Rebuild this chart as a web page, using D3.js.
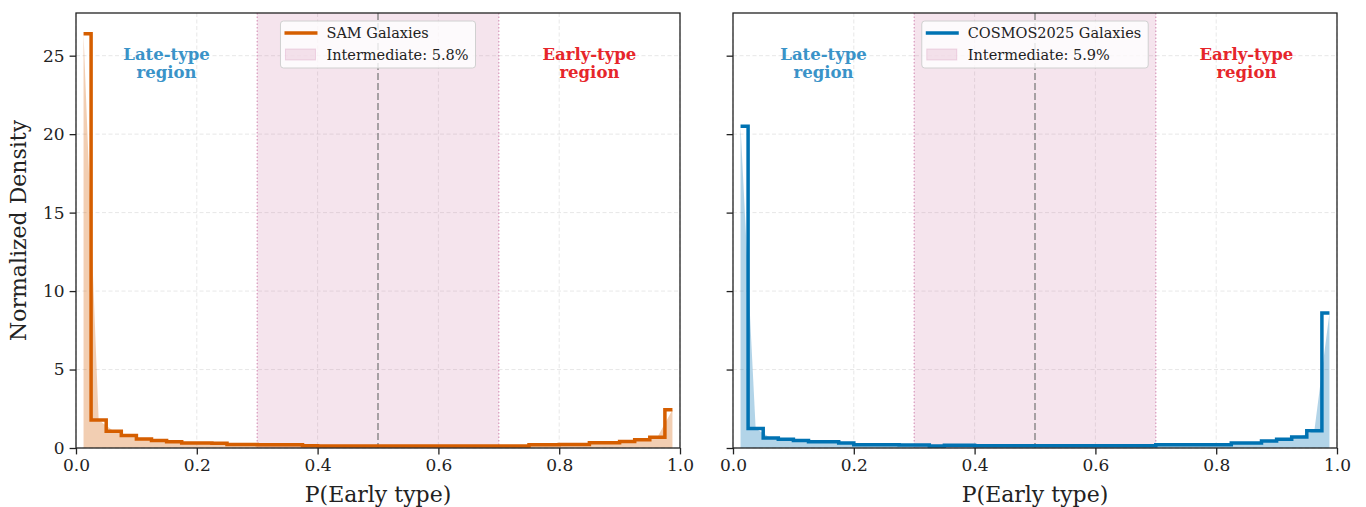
<!DOCTYPE html>
<html>
<head>
<meta charset="utf-8">
<script src="https://cdn.jsdelivr.net/npm/d3@7"></script>
<style>
body{margin:0;background:#fff}
svg{display:block}
text{font-family:'DejaVu Serif',serif}
</style>
</head>
<body>
<svg id="chart" width="1366" height="507"></svg>
<script>
// ---------- data ----------
const binCenters = [0.0125,0.0375,0.0625,0.0875,0.1125,0.1375,0.1625,0.1875,0.2125,0.2375,
  0.2625,0.2875,0.3125,0.3375,0.3625,0.3875,0.4125,0.4375,0.4625,0.4875,
  0.5125,0.5375,0.5625,0.5875,0.6125,0.6375,0.6625,0.6875,0.7125,0.7375,
  0.7625,0.7875,0.8125,0.8375,0.8625,0.8875,0.9125,0.9375,0.9625,0.9875];
const samDensity = [26.4,1.78,1.06,0.79,0.57,0.47,0.40,0.32,0.32,0.31,
  0.22,0.22,0.21,0.21,0.21,0.14,0.13,0.13,0.13,0.13,
  0.12,0.12,0.12,0.12,0.12,0.12,0.12,0.12,0.12,0.12,
  0.21,0.21,0.22,0.22,0.33,0.33,0.42,0.53,0.68,2.44];
const cosmosDensity = [20.5,1.25,0.64,0.55,0.48,0.40,0.40,0.32,0.20,0.20,
  0.20,0.19,0.19,0.12,0.18,0.17,0.14,0.14,0.14,0.14,
  0.14,0.14,0.14,0.14,0.14,0.14,0.14,0.14,0.20,0.20,
  0.20,0.20,0.21,0.32,0.32,0.44,0.55,0.70,1.10,8.6];
const xTicks = [0,0.2,0.4,0.6,0.8,1.0];
const yTicks = [0,5,10,15,20,25];
const intermediateBounds = [0.3,0.7];
const seriesNames = ["SAM Galaxies","COSMOS2025 Galaxies"];
const intermediateLabels = ["Intermediate: 5.8%","Intermediate: 5.9%"];
const seriesColors = ["#D55E00","#0072B2"];
const regionLabels = [["Late-type","region"],["Early-type","region"]];

// ---------- layout ----------
const svg = d3.select("#chart");
const plotTop = 13, plotBottom = 448;
const panels = [
  {x0:76, x1:680, values:samDensity, color:seriesColors[0], name:seriesNames[0], inter:intermediateLabels[0], yLabels:true},
  {x0:733, x1:1337, values:cosmosDensity, color:seriesColors[1], name:seriesNames[1], inter:intermediateLabels[1], yLabels:false}
];
const yMax = d3.max([...samDensity, ...cosmosDensity]) * 1.05;
const y = d3.scaleLinear().domain([0, yMax]).range([plotBottom, plotTop]);
const pink = "#CC79A7";

panels.forEach(p => {
  const x = d3.scaleLinear().domain([0,1]).range([p.x0, p.x1]);
  const g = svg.append("g");

  // grid
  g.selectAll(".gx").data(xTicks).join("line")
    .attr("x1", d=>x(d)).attr("x2", d=>x(d)).attr("y1", plotTop).attr("y2", plotBottom)
    .attr("stroke","#b0b0b0").attr("stroke-opacity",0.35).attr("stroke-width",0.9).attr("stroke-dasharray","4,2.5");
  g.selectAll(".gy").data(yTicks).join("line")
    .attr("x1", p.x0).attr("x2", p.x1).attr("y1", d=>y(d)).attr("y2", d=>y(d))
    .attr("stroke","#b0b0b0").attr("stroke-opacity",0.35).attr("stroke-width",0.9).attr("stroke-dasharray","4,2.5");

  // intermediate span
  g.append("rect")
    .attr("x", x(intermediateBounds[0])).attr("width", x(intermediateBounds[1]) - x(intermediateBounds[0]))
    .attr("y", plotTop).attr("height", plotBottom - plotTop)
    .attr("fill", pink).attr("fill-opacity", 0.2);
  g.selectAll(".edge").data(intermediateBounds).join("line")
    .attr("x1", d=>x(d)).attr("x2", d=>x(d)).attr("y1", plotTop).attr("y2", plotBottom)
    .attr("stroke", pink).attr("stroke-opacity",0.75).attr("stroke-width",1.2).attr("stroke-dasharray","1.5,2");

  // dashed mid line
  g.append("line")
    .attr("x1", x(0.5)).attr("x2", x(0.5)).attr("y1", plotTop).attr("y2", plotBottom)
    .attr("stroke","#808080").attr("stroke-opacity",0.75).attr("stroke-width",1.8).attr("stroke-dasharray","7,3");

  const pts = binCenters.map((c,i)=>[c, p.values[i]]);
  // fill
  g.append("path").datum(pts)
    .attr("d", d3.area().x(d=>x(d[0])).y0(y(0)).y1(d=>y(d[1])))
    .attr("fill", p.color).attr("fill-opacity", 0.3);
  // step line
  g.append("path").datum(pts)
    .attr("d", d3.line().x(d=>x(d[0])).y(d=>y(d[1])).curve(d3.curveStep))
    .attr("fill","none").attr("stroke", p.color).attr("stroke-width",3.5).attr("stroke-linejoin","miter");

  // axes
  const ax = g.append("g").attr("transform", `translate(0,${plotBottom})`)
    .call(d3.axisBottom(x).tickValues(xTicks).tickFormat(d3.format(".1f")).tickSizeInner(6.4).tickSizeOuter(0).tickPadding(5));
  ax.select(".domain").remove();
  ax.selectAll("line").attr("stroke","#222").attr("stroke-width",1.3);
  ax.selectAll("text").attr("font-size",17).attr("fill","#222").attr("font-family","DejaVu Serif");

  const ay = g.append("g").attr("transform", `translate(${p.x0},0)`)
    .call(d3.axisLeft(y).tickValues(yTicks).tickFormat(p.yLabels ? d3.format("d") : ()=>"").tickSizeInner(6.4).tickSizeOuter(0).tickPadding(5));
  ay.select(".domain").remove();
  ay.selectAll("line").attr("stroke","#222").attr("stroke-width",1.3);
  ay.selectAll("text").attr("font-size",17).attr("fill","#222").attr("font-family","DejaVu Serif");

  // frame
  g.append("rect").attr("x", p.x0).attr("y", plotTop).attr("width", p.x1-p.x0).attr("height", plotBottom-plotTop)
    .attr("fill","none").attr("stroke","#222").attr("stroke-width",1.3);

  // x label
  g.append("text").attr("x", (p.x0+p.x1)/2).attr("y", 502).attr("text-anchor","middle")
    .attr("font-size",22).attr("fill","#222").text("P(Early type)");

  // region labels
  const regionColors = ["#3a93c8","#e6262b"];
  [0.15, 0.85].forEach((fx, k) => {
    const t = g.append("text").attr("text-anchor","middle").attr("font-weight","bold")
      .attr("font-size",16.5).attr("fill", regionColors[k]);
    regionLabels[k].forEach((line, j) => {
      t.append("tspan").attr("x", x(fx)).attr("y", 60 + j*18).text(line);
    });
  });

  // legend
  const lg = g.append("g");
  const box = lg.append("rect");
  const t1 = lg.append("text").attr("font-size",14.5).attr("fill","#222").text(p.name);
  const t2 = lg.append("text").attr("font-size",14.5).attr("fill","#222").text(p.inter);
  const tw = Math.max(t1.node().getComputedTextLength(), t2.node().getComputedTextLength());
  const bw = 46 + tw + 7, bh = 47;
  const bx = (p.x0+p.x1)/2 - bw/2, by = 21;
  box.attr("x", bx).attr("y", by).attr("width", bw).attr("height", bh).attr("rx",3)
    .attr("fill","#fff").attr("fill-opacity",0.8).attr("stroke","#d0d0d0").attr("stroke-width",1);
  lg.append("line").attr("x1", bx+4).attr("x2", bx+37).attr("y1", by+12).attr("y2", by+12)
    .attr("stroke", p.color).attr("stroke-width",3.5);
  lg.append("rect").attr("x", bx+5).attr("y", by+28).attr("width",30).attr("height",11)
    .attr("fill", pink).attr("fill-opacity",0.2).attr("stroke", pink).attr("stroke-opacity",0.25);
  t1.attr("x", bx+46).attr("y", by+17);
  t2.attr("x", bx+46).attr("y", by+39);
});

// y label
svg.append("text").attr("transform", `translate(26,${(plotTop+plotBottom)/2}) rotate(-90)`)
  .attr("text-anchor","middle").attr("font-size",22).attr("fill","#222").text("Normalized Density");
</script>
</body>
</html>
